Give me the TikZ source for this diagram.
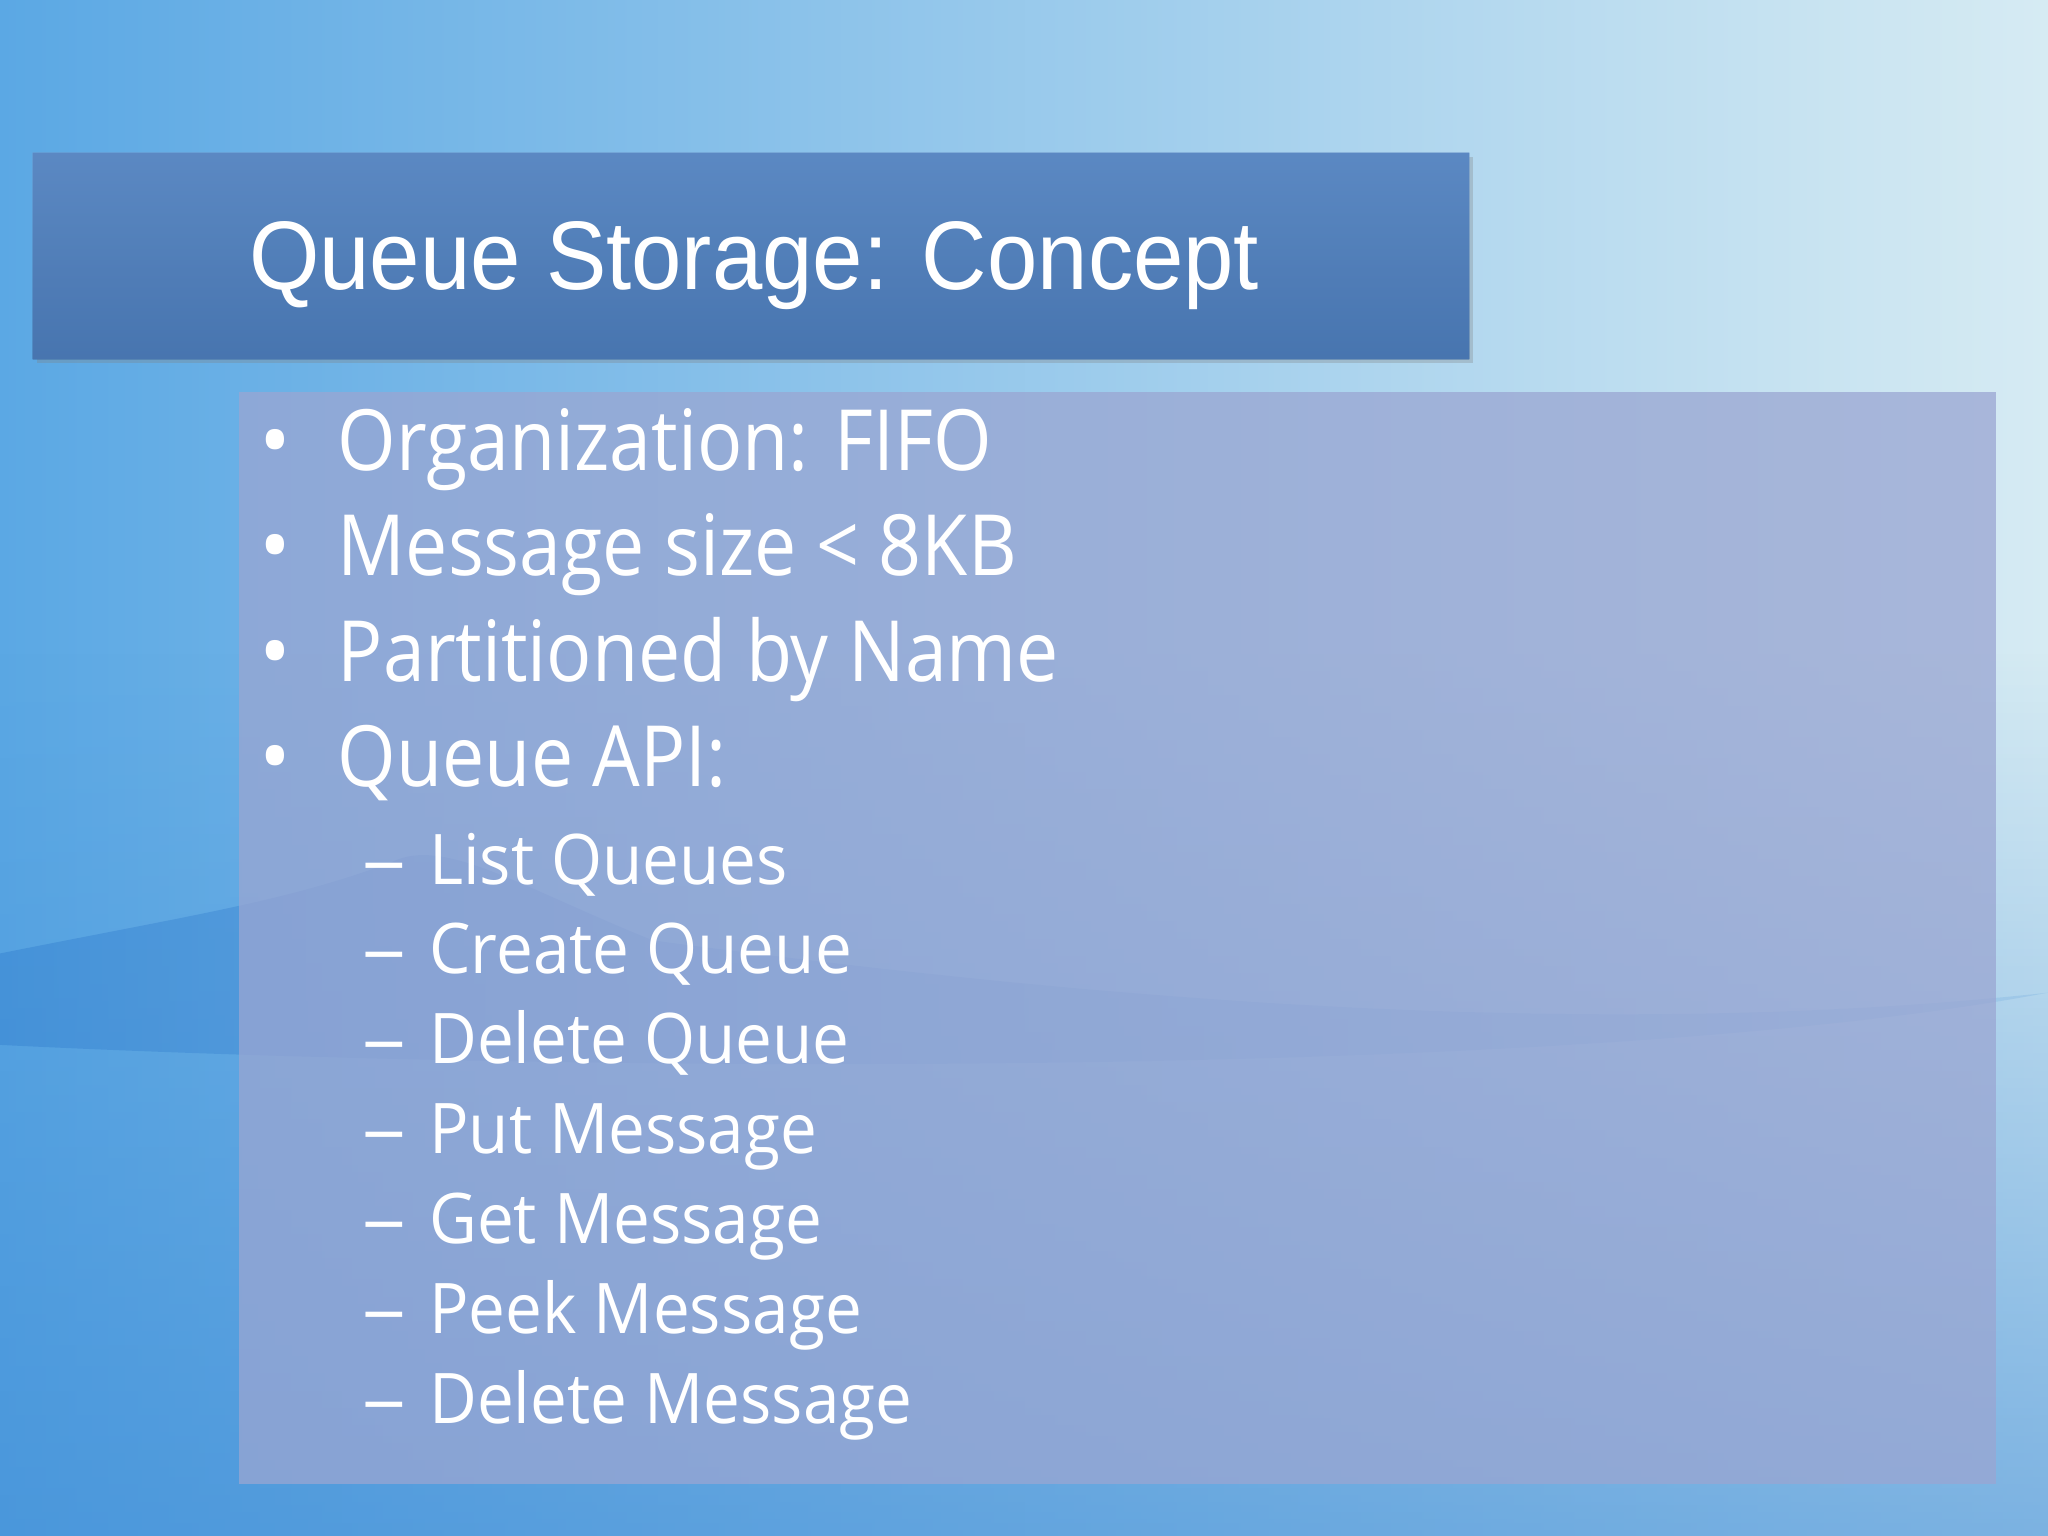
\documentclass[tikz,border=0pt]{standalone}
\usepackage{fontspec}
\setmainfont{Open Sans}
\newfontfamily\titlefont{Liberation Sans}
\usetikzlibrary{shadows,fadings}
\definecolor{skyA}{HTML}{5BA8E4}
\definecolor{skyB}{HTML}{D6EBF3}
\definecolor{skyC}{HTML}{3F8CD6}
\definecolor{titleblue}{HTML}{4E7FBE}
\definecolor{panel}{HTML}{9AA6D2}
\newcommand{\sqz}[2]{\scalebox{#1}[1]{#2}}
\tikzset{
  bul/.style={anchor=base west,text=white,font=\fontsize{18.4}{22}\selectfont,inner sep=0pt},
  sub/.style={anchor=base west,text=white,font=\fontsize{15.2}{18}\selectfont,inner sep=0pt},
}
\begin{document}
\begin{tikzpicture}[x=0.01cm,y=-0.01cm]
\useasboundingbox (0,0) rectangle (1568,1176);
% background
\shade[left color=skyA,right color=skyB] (0,0) rectangle (1568,1176);
\fill[skyC,opacity=0.6,path fading=north] (0,500) rectangle (1568,1176);
\shade[left color=skyC,right color=skyC!40!skyB,opacity=0.7] (0,730) .. controls (150,700) and (220,690) .. (300,660)
  .. controls (340,640) and (400,680) .. (500,720) .. controls (800,760) and (1200,800) .. (1568,760)
  .. controls (1200,830) and (400,820) .. (0,800) -- cycle;
% title
\fill[titleblue,drop shadow={opacity=0.3,shadow xshift=0.03cm,shadow yshift=-0.03cm}] (25,117) rectangle (1125,275);
\shade[top color=titleblue!85!white,bottom color=titleblue!85!black,opacity=0.5] (25,117) rectangle (1125,275);
\node (title)[anchor=base west,text=white,inner sep=0pt,font=\titlefont\fontsize{21.2}{26}\selectfont] at (190,222) {\sqz{0.93}{Queue Storage: Concept}};
% panel
\fill[panel,opacity=0.75] (183,300) rectangle (1528,1136);
\foreach \t/\y [count=\i] in {Organization: FIFO/360,Message size < 8KB/441,Partitioned by Name/522,Queue API:/602}{
  \node (b\i)[bul] at (198,\y) {•};
  \node (t\i)[bul] at (258,\y) {\sqz{0.89}{\t}};
}
\foreach \t/\y [count=\i] in {List Queues/677,Create Queue/745,Delete Queue/814,Put Message/883,Get Message/952,Peek Message/1021,Delete Message/1090}{
  \node (d\i)[sub] at (277,\y) {\sqz{1.25}{–}};
  \node (s\i)[sub] at (328,\y) {\sqz{0.94}{\t}};
}
\end{tikzpicture}
\end{document}
